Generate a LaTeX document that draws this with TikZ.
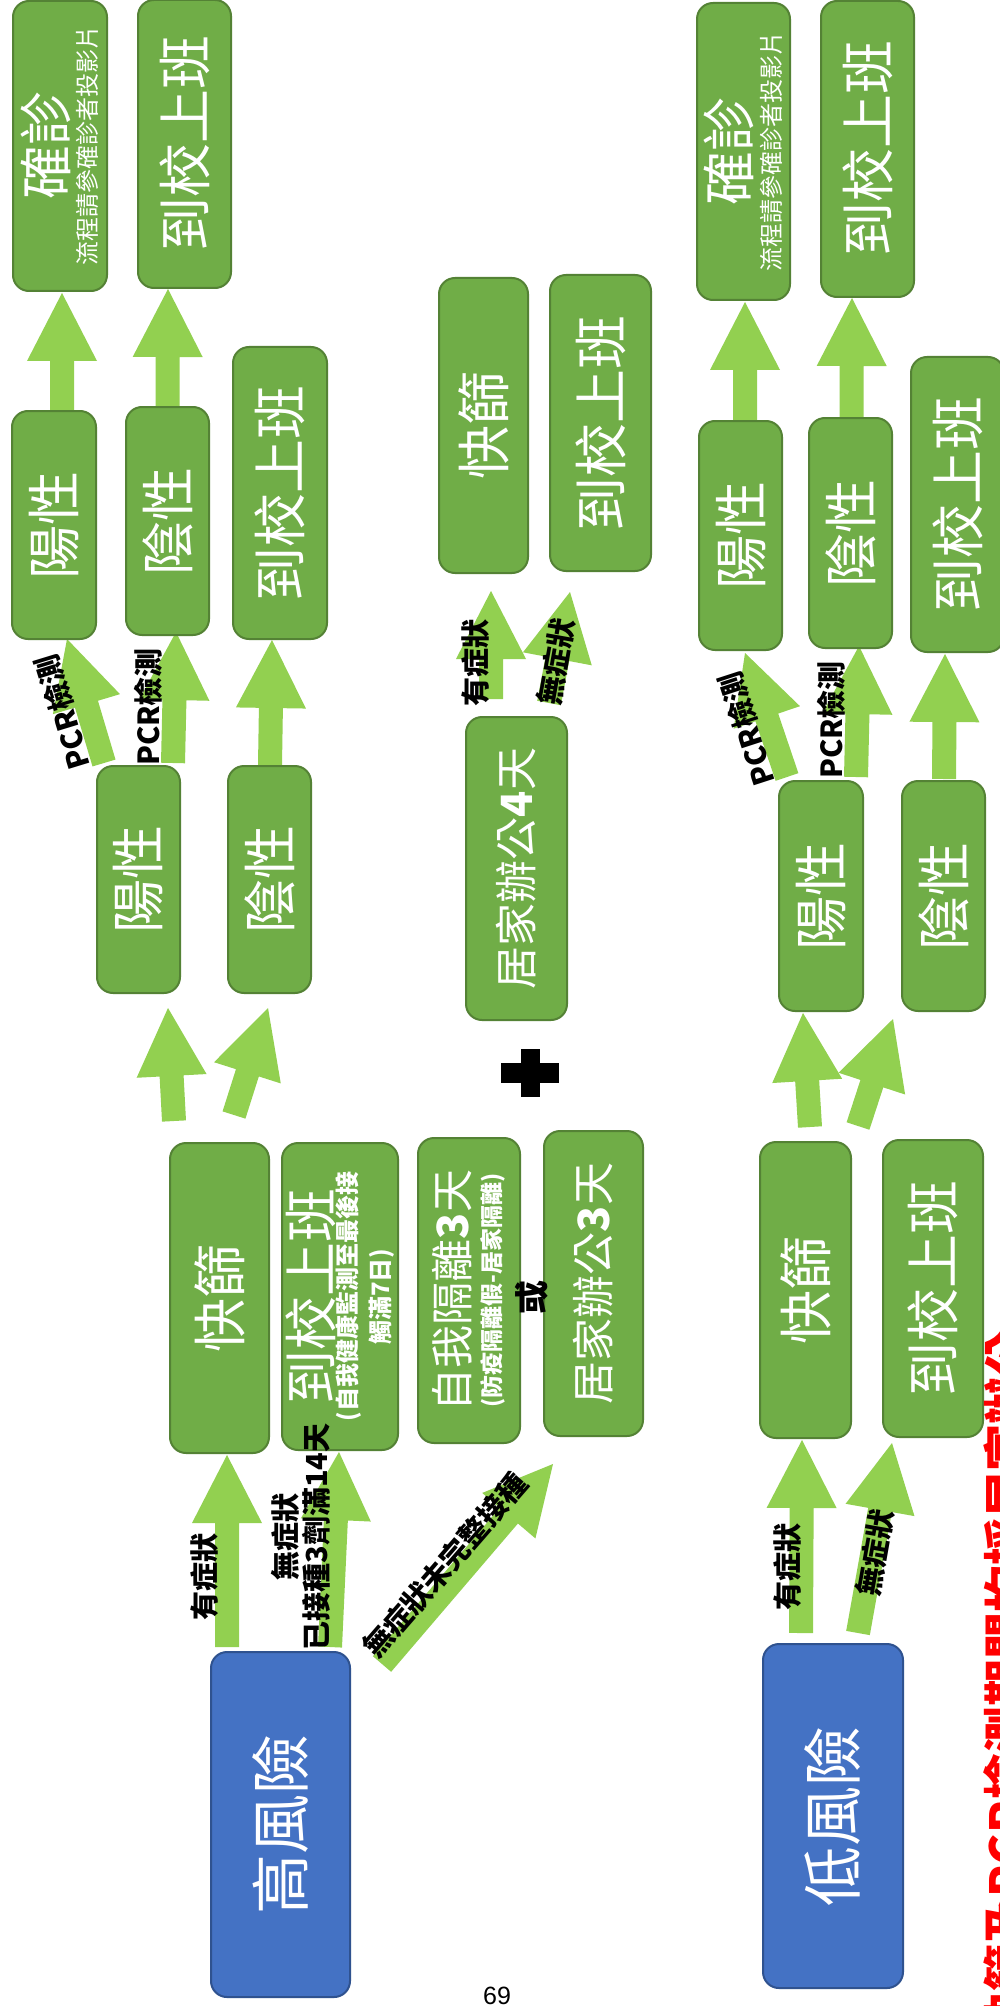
\documentclass[tikz,border=0pt]{standalone}
\usepackage{fontspec}
\newfontfamily\cjk{Noto Sans CJK TC}
\newfontfamily\arial{Liberation Sans}
\usetikzlibrary{calc}

\definecolor{boxgreen}{HTML}{70AD47}
\definecolor{boxedge}{HTML}{548235}
\definecolor{arrowgreen}{HTML}{92D050}
\definecolor{riskblue}{HTML}{4472C4}
\definecolor{riskedge}{HTML}{2F528F}

\pgfdeclarelayer{bg}
\pgfdeclarelayer{arrows}
\pgfsetlayers{bg,arrows,main}

\newcommand\fsz[1]{\fontsize{#1}{#1}\selectfont}
\newcommand\vtext[1]{\rotatebox{90}{\fsz{4}\begin{tabular}{@{}c@{}}#1\end{tabular}}}
% fat block arrow from #1 (tail) to #2 (tip)
\newcommand\fatarrow[2]{%
  \coordinate (fa-t) at (#1);
  \coordinate (fa-h) at (#2);
  \coordinate (fa-b) at ($(fa-h)!34pt!(fa-t)$);
  \fill[arrowgreen]
    ($(fa-t)!6pt!90:(fa-h)$) -- ($(fa-b)!6pt!90:(fa-h)$) -- ($(fa-b)!17.5pt!90:(fa-h)$) -- (fa-h)
    -- ($(fa-b)!17.5pt!-90:(fa-h)$) -- ($(fa-b)!6pt!-90:(fa-h)$) -- ($(fa-t)!6pt!-90:(fa-h)$) -- cycle;
}

\begin{document}
\begin{tikzpicture}[x=0.5pt, y=-0.5pt,
    gbox/.style={draw=boxedge, fill=boxgreen, line width=1pt, rounded corners=8pt,
      inner sep=0pt, text=white, font=\cjk},
    rbox/.style={gbox, draw=riskedge, fill=riskblue},
    gsize/.style 2 args={minimum width=#1*0.5pt, minimum height=#2*0.5pt},
    lbl/.style={font=\cjk\bfseries\fsz{14.5}, inner sep=0pt, align=center}]
  \useasboundingbox (0,0) rectangle (1000,2006);
  \begin{pgfonlayer}{bg}
    \fill[white] (0,0) rectangle (1000,2006);
  \end{pgfonlayer}

  % high risk branch
  \node[gbox, gsize={94}{290}] (conf1) at (60,146) {\vtext{\fsz{27}確診\\[4pt]\fsz{12}流程請參確診者投影片}};
  \node[gbox, gsize={93}{288}] (work1a) at (184.5,144) {\vtext{\fsz{27}到校上班}};
  \node[gbox, gsize={84}{228}] (pos1b) at (54,525) {\vtext{\fsz{27}陽性}};
  \node[gbox, gsize={83}{228}] (neg1b) at (167.5,521) {\vtext{\fsz{27}陰性}};
  \node[gbox, gsize={94}{292}] (work1b) at (280,493) {\vtext{\fsz{27}到校上班}};
  \node[gbox, gsize={83}{227}] (pos1c) at (138.5,879.5) {\vtext{\fsz{27}陽性}};
  \node[gbox, gsize={83}{227}] (neg1c) at (269.5,879.5) {\vtext{\fsz{27}陰性}};
  \node[gbox, gsize={99}{310}] (rapid1) at (219.5,1298) {\vtext{\fsz{27}快篩}};
  \node[gbox, gsize={116}{307}] (work1d) at (340,1296.5)
    {\vtext{\fsz{27}到校上班\\\fsz{12}\bfseries (自我健康監測至最後接\\[5pt]\fsz{12}\bfseries 觸滿7日)}};
  \node[gbox, gsize={102}{305}] (iso) at (469,1290.5)
    {\vtext{\fsz{21.5}自我隔離{\bfseries 3}天\\[5pt]\fsz{11.5}\bfseries (防疫隔離假-居家隔離)}};
  \node[gbox, gsize={99}{305}] (home3) at (593.5,1283.5) {\vtext{\fsz{21.5}居家辦公{\bfseries 3}天}};
  \node[rbox, gsize={139}{345}] (high) at (280.5,1824.5) {\vtext{\fsz{30}高風險}};

  % middle column
  \node[gbox, gsize={89}{295}] (rapidm) at (483.5,425.5) {\vtext{\fsz{27}快篩}};
  \node[gbox, gsize={101}{296}] (workm) at (600.5,423) {\vtext{\fsz{27}到校上班}};
  \node[gbox, gsize={101}{303}] (home4) at (516.5,868.5) {\vtext{\fsz{21.5}居家辦公{\bfseries 4}天}};

  % low risk branch
  \node[gbox, gsize={93}{297}] (conf2) at (743.5,151.5) {\vtext{\fsz{27}確診\\[4pt]\fsz{12}流程請參確診者投影片}};
  \node[gbox, gsize={93}{296}] (work2a) at (867.5,149) {\vtext{\fsz{27}到校上班}};
  \node[gbox, gsize={83}{229}] (pos2b) at (740.5,535.5) {\vtext{\fsz{27}陽性}};
  \node[gbox, gsize={83}{230}] (neg2b) at (850.5,533) {\vtext{\fsz{27}陰性}};
  \node[gbox, gsize={93}{295}] (work2b) at (957.5,504.5) {\vtext{\fsz{27}到校上班}};
  \node[gbox, gsize={84}{230}] (pos2c) at (821,896) {\vtext{\fsz{27}陽性}};
  \node[gbox, gsize={83}{230}] (neg2c) at (943.5,896) {\vtext{\fsz{27}陰性}};
  \node[gbox, gsize={91}{296}] (rapid2) at (805.5,1290) {\vtext{\fsz{27}快篩}};
  \node[gbox, gsize={100}{297}] (work2d) at (933,1288.5) {\vtext{\fsz{27}到校上班}};
  \node[rbox, gsize={140}{344}] (low) at (833,1816) {\vtext{\fsz{30}低風險}};

  \begin{pgfonlayer}{arrows}
    \fatarrow{$(pos1b.north)+(8,0)$}{$(conf1.south)+(2,1)$}
    \fatarrow{$(neg1b.north)$}{$(work1a.south)+(-16.5,0)$}
    \fatarrow{$(pos1c.north)+(-34.5,-2)$}{$(pos1b.south)+(13,-1)$}
    \fatarrow{$(pos1c.north)+(34.5,-2)$}{$(neg1b.south)+(8.5,-4)$}
    \fatarrow{$(neg1c.north)+(0.5,0)$}{$(work1b.south)+(-8,0)$}
    \fatarrow{$(rapid1.north)+(-45.5,-21)$}{$(pos1c.south)+(29.5,14)$}
    \fatarrow{$(rapid1.north)+(14.5,-27)$}{$(neg1c.south)+(-1.5,14)$}
    \fatarrow{$(high.north)+(-53.5,-4)$}{$(rapid1.south)+(7.5,1)$}
    \fatarrow{$(high.north)+(49.5,-4)$}{$(work1d.south)+(-1,1)$}
    \fatarrow{$(high.north east)+(31,13)$}{$(home3.south)+(-40.5,27)$}
    \fatarrow{$(home4.north)+(-25.5,-17)$}{$(rapidm.south)+(7.5,17)$}
    \fatarrow{$(home4.north)+(32.5,-13)$}{$(workm.south)+(-30.5,20)$}
    \fatarrow{$(pos2b.north)+(4.5,0)$}{$(conf2.south)+(1.5,1)$}
    \fatarrow{$(neg2b.north)+(1,0)$}{$(work2a.south)+(-15.5,0)$}
    \fatarrow{$(pos2c.north)+(-34,-3)$}{$(pos2b.south)+(4.5,2)$}
    \fatarrow{$(pos2c.north)+(35,-3)$}{$(neg2b.south)+(8.5,-3)$}
    \fatarrow{$(neg2c.north)+(0.5,-1)$}{$(work2b.south)+(-12.5,1)$}
    \fatarrow{$(rapid2.north)+(4.5,-14)$}{$(pos2c.south)+(-18,1)$}
    \fatarrow{$(rapid2.north)+(52.5,-15)$}{$(neg2c.south)+(-50.5,7)$}
    \fatarrow{$(low.north)+(-32,-10)$}{$(rapid2.south)+(-3.5,1)$}
    \fatarrow{$(low.north)+(25,-10)$}{$(work2d.south)+(-41,5)$}
  \end{pgfonlayer}

  % arrow labels
  \node[lbl, rotate=107] (pcr1) at (63,712) {PCR檢測};
  \node[lbl, rotate=90] (pcr2) at (148,707) {PCR檢測};
  \node[lbl, rotate=108] (pcr3) at (747,729) {PCR檢測};
  \node[lbl, rotate=90] (pcr4) at (831,720) {PCR檢測};
  \node[lbl, rotate=90] (sym1) at (205,1577) {有症狀};
  \node[lbl, rotate=90] (nosym1) at (301,1537) {無症狀\\[1pt]已接種3劑滿14天};
  \node[lbl, rotate=49] (novax) at (445,1565) {無症狀未完整接種};
  \node[lbl, rotate=90] (symm) at (476,663) {有症狀};
  \node[lbl, rotate=80] (nosymm) at (556,662) {無症狀};
  \node[lbl, rotate=90] (sym2) at (788,1567) {有症狀};
  \node[lbl, rotate=80] (nosym2) at (875,1553) {無症狀};
  \node[lbl, rotate=90, font=\cjk\bfseries\fsz{17}] (orword) at (532,1297) {或};

  % plus sign
  \fill (501,1063) rectangle (559,1083);
  \fill (521,1049) rectangle (540,1097);

  \node[font=\arial\fsz{12.5}, inner sep=0pt] (pagenum) at (497,1996) {69};
  \node[rotate=90, anchor=east, inner sep=0pt, text=red, font=\cjk\bfseries\fsz{23.5}] (note)
    at (1007,1330) {快篩及PCR檢測期間均採居家辦公};
\end{tikzpicture}
\end{document}
